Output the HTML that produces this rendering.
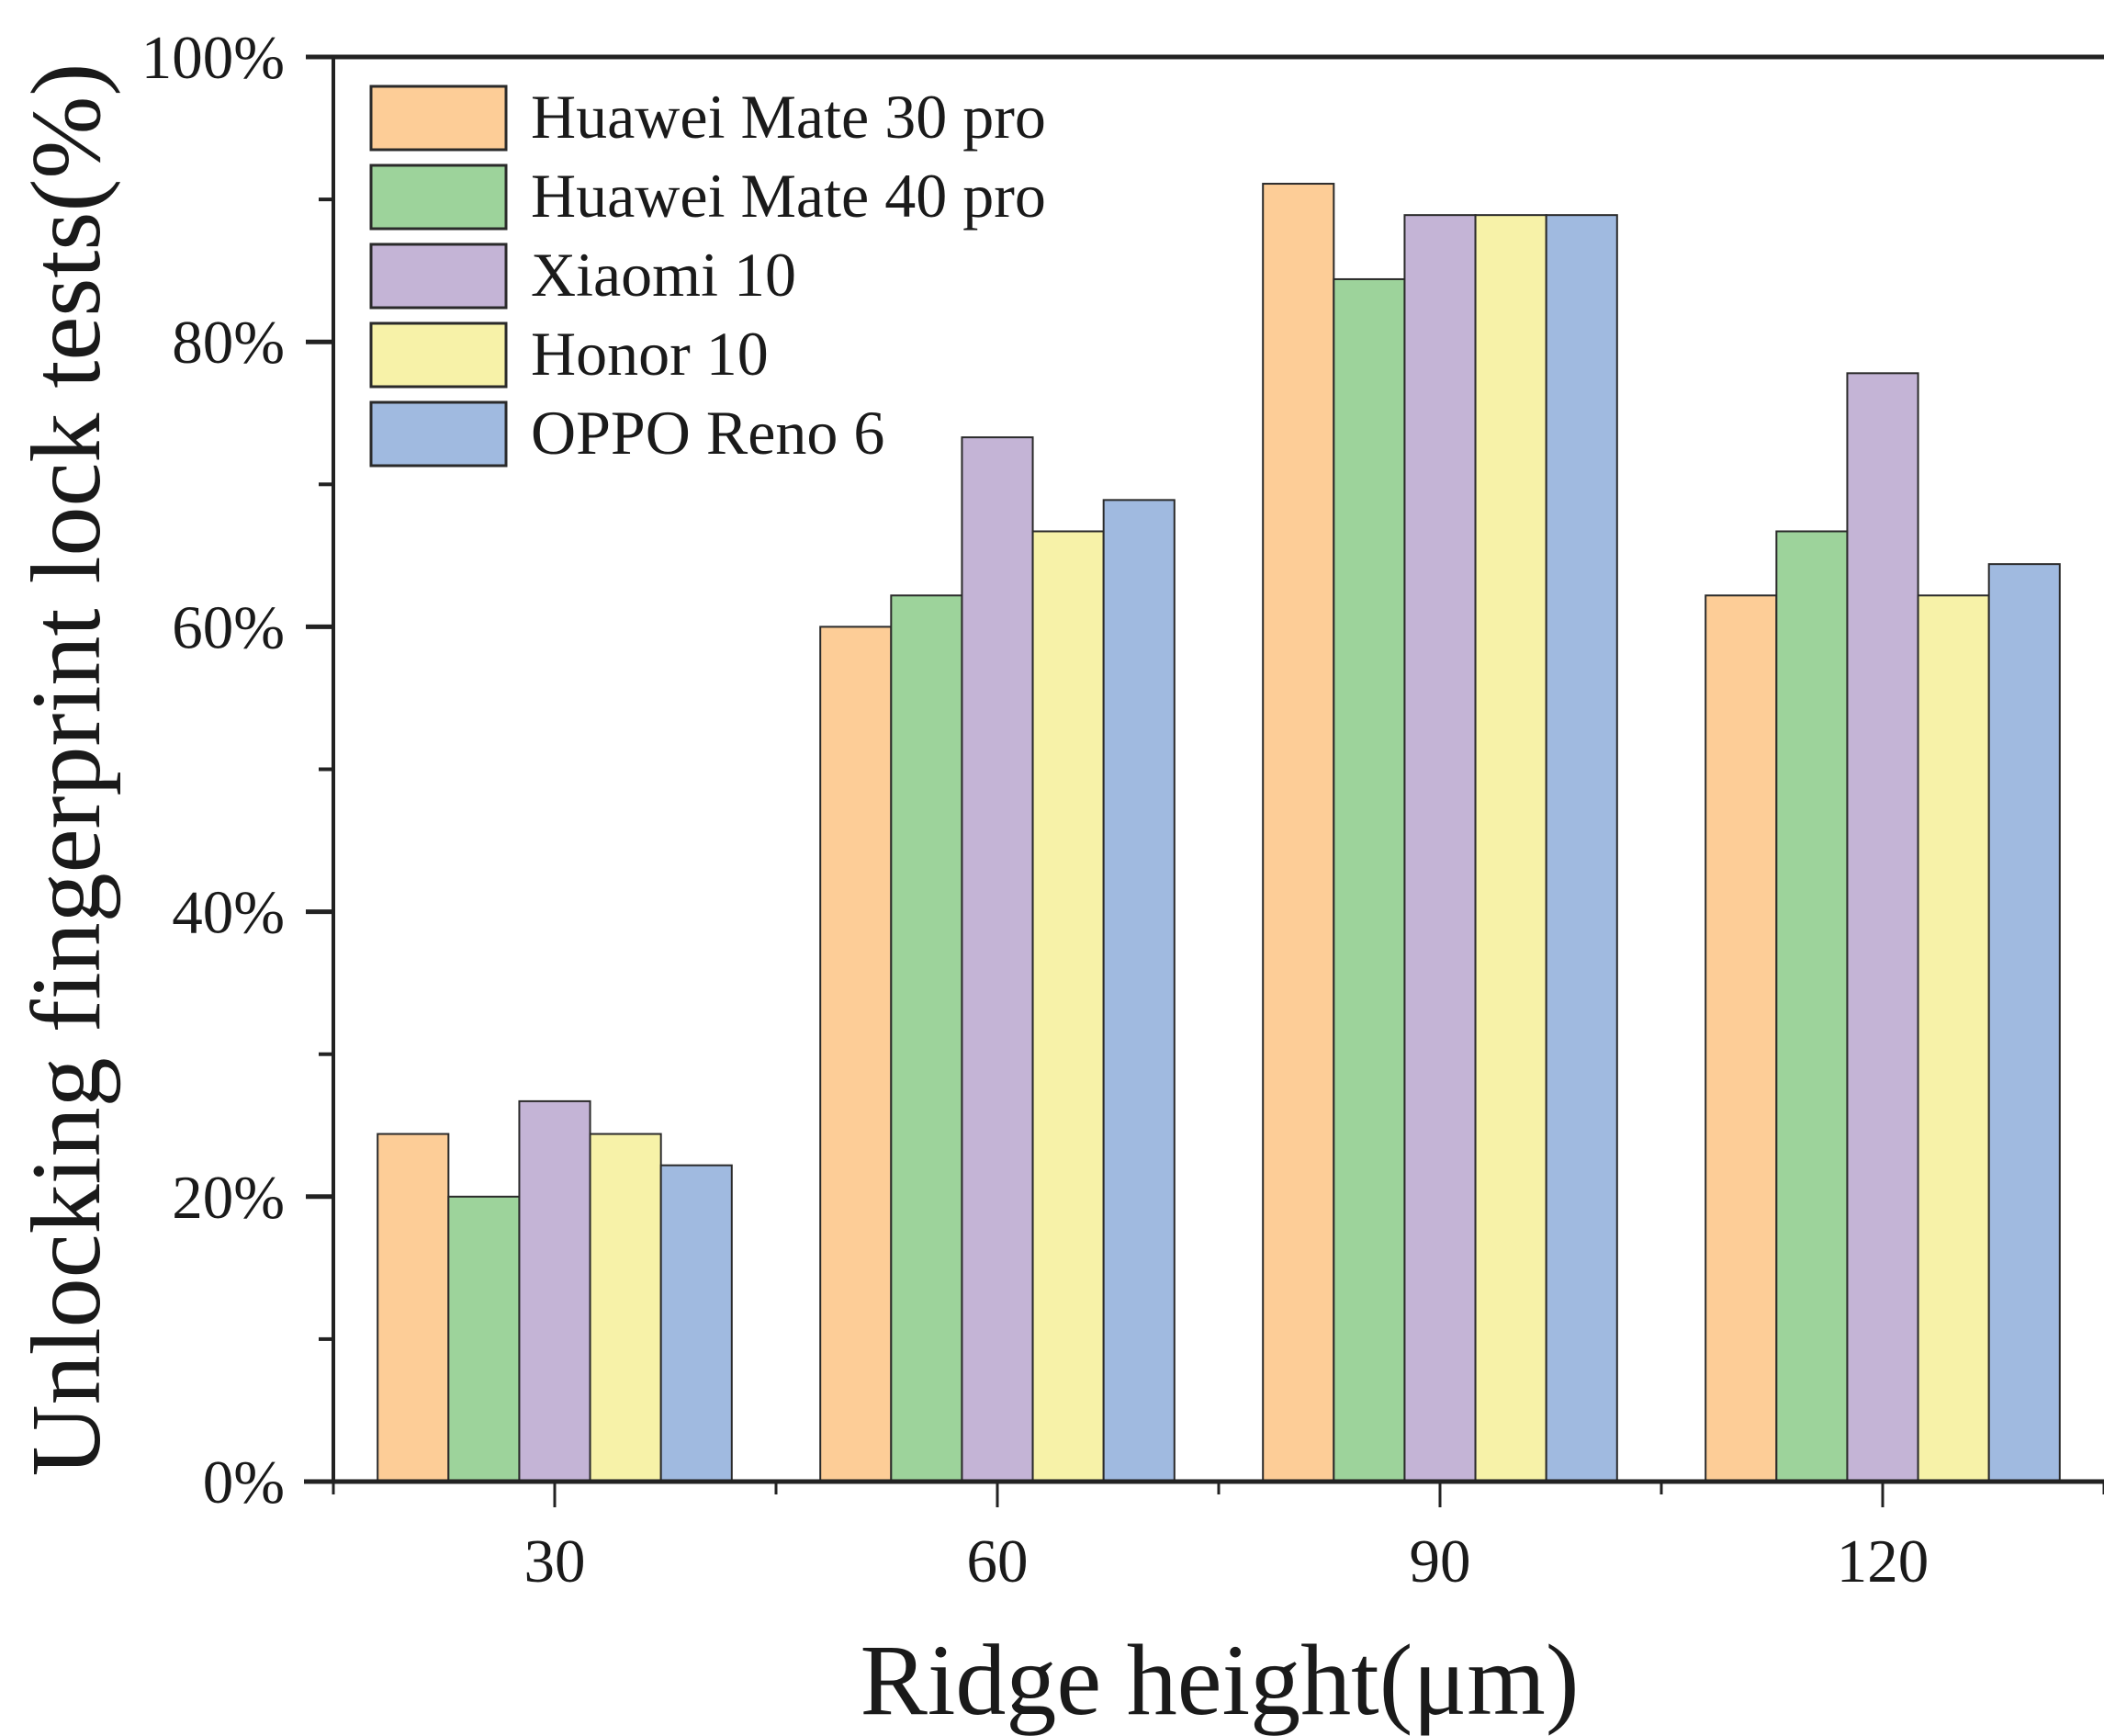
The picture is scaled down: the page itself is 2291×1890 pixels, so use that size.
<!DOCTYPE html>
<html><head><meta charset="utf-8"><style>
html,body{margin:0;padding:0;background:#fff}
svg{display:block}
text{font-family:"Liberation Serif",serif;fill:#1a1a1a}
</style></head><body>
<svg id="chart" width="2291" height="1890" viewBox="0 0 2291 1890" xmlns="http://www.w3.org/2000/svg">
<g id="bars"></g>
<g id="axes"></g>
<g id="legend"></g>
<text x="1328" y="1866" font-size="110" text-anchor="middle">Ridge height(μm)</text>
<text transform="translate(108,838) rotate(-90)" font-size="108" text-anchor="middle">Unlocking fingerprint lock tests(%)</text>
</svg>
<script>
const categories = [30, 60, 90, 120];
const seriesNames = ["Huawei Mate 30 pro","Huawei Mate 40 pro","Xiaomi 10","Honor 10","OPPO Reno 6"];
const huawei30 = [24.4, 60.0, 91.1, 62.2];
const huawei40 = [20.0, 62.2, 84.4, 66.7];
const xiaomi10 = [26.7, 73.3, 88.9, 77.8];
const honor10 = [24.4, 66.7, 88.9, 62.2];
const oppoReno6 = [22.2, 68.9, 88.9, 64.4];
const yTicks = [0, 20, 40, 60, 80, 100];
const yTickLabels = ["0%","20%","40%","60%","80%","100%"];

const series = [huawei30, huawei40, xiaomi10, honor10, oppoReno6];
const colors = ["#FDCD97","#9DD39B","#C4B4D6","#F7F2A8","#A0BAE0"];
const NS = "http://www.w3.org/2000/svg";
const X0 = 363, X1 = 2291, Y0 = 1613, Y100 = 62;
const xMin = 15, xMax = 135;
function xs(v){ return X0 + (v - xMin) / (xMax - xMin) * (X1 - X0); }
function ys(v){ return Y0 - v / 100 * (Y0 - Y100); }
function mk(tag, attrs, parent){
  const e = document.createElementNS(NS, tag);
  for (const k in attrs) e.setAttribute(k, attrs[k]);
  parent.appendChild(e); return e;
}
const barsG = document.getElementById('bars');
const axesG = document.getElementById('axes');
const legG = document.getElementById('legend');
const barW = (xs(30) - xs(0)) * 0.16;
categories.forEach((c, i) => {
  series.forEach((s, j) => {
    const x = xs(c) - 2.5 * barW + j * barW;
    const r = mk('rect', {x: x, y: ys(s[i]), width: barW, height: Y0 - ys(s[i]), fill: colors[j], stroke: '#2a2a2a', 'stroke-width': 2}, barsG);
    
    
  });
});
let l = mk('line', {x1: X0, y1: Y100, x2: X1, y2: Y100, stroke: '#222', 'stroke-width': 5}, axesG);


l = mk('line', {x1: X0, y1: Y100 - 2, x2: X0, y2: Y0 + 2, stroke: '#222', 'stroke-width': 4}, axesG);


l = mk('line', {x1: X0 - 32, y1: Y0, x2: X1, y2: Y0, stroke: '#222', 'stroke-width': 5}, axesG);


yTicks.forEach((t, i) => {
  const y = ys(t);
  mk('line', {x1: X0 - 30, y1: y, x2: X0, y2: y, stroke: '#222', 'stroke-width': 5}, axesG);
  const tx = mk('text', {x: 310, y: y + 23, 'font-size': 67, 'text-anchor': 'end'}, axesG);
  tx.textContent = yTickLabels[i];
  
  
  if (i < yTicks.length - 1) {
    const ym = ys(t + 10);
    mk('line', {x1: X0 - 16, y1: ym, x2: X0, y2: ym, stroke: '#222', 'stroke-width': 4}, axesG);
  }
});
categories.forEach((c) => {
  const x = xs(c);
  mk('line', {x1: x, y1: Y0, x2: x, y2: Y0 + 28, stroke: '#222', 'stroke-width': 3}, axesG);
  mk('line', {x1: xs(c - 15), y1: Y0, x2: xs(c - 15), y2: Y0 + 14, stroke: '#222', 'stroke-width': 3}, axesG);
  const tx = mk('text', {x: x, y: 1722, 'font-size': 67, 'text-anchor': 'middle'}, axesG);
  tx.textContent = c;
  
  
});
mk('line', {x1: xs(135), y1: Y0, x2: xs(135), y2: Y0 + 14, stroke: '#222', 'stroke-width': 3}, axesG);
seriesNames.forEach((n, j) => {
  const y = 94 + j * 86;
  const r = mk('rect', {x: 404, y: y, width: 147, height: 69, fill: colors[j], stroke: '#2a2a2a', 'stroke-width': 3}, legG);
  
  
  const tx = mk('text', {x: 578, y: y + 56, 'font-size': 68}, legG);
  tx.textContent = n;
  
  
});
</script>
</body></html>
